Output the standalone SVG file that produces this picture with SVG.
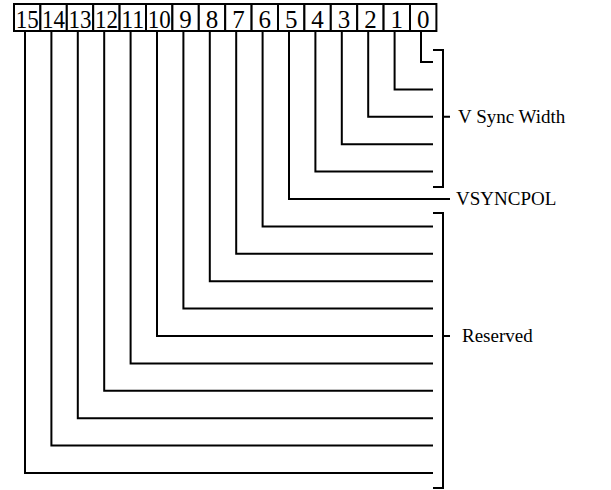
<svg xmlns="http://www.w3.org/2000/svg" width="611" height="490" viewBox="0 0 611 490">
<style>
.box{fill:#fff;stroke:#000;stroke-width:2}
.num{font-family:"Liberation Serif",serif;font-size:25px;text-anchor:middle;fill:#000}
.lbl{font-family:"Liberation Serif",serif;font-size:19px;fill:#000}
.ln{fill:none;stroke:#000;stroke-width:2}
</style>
<rect width="611" height="490" fill="#fff"/>
<g id="register">
<g id="bit15"><rect class="box" x="14" y="4" width="26.4" height="27"/><text class="num" x="27.2" y="28" textLength="23" lengthAdjust="spacingAndGlyphs">15</text></g>
<g id="bit14"><rect class="box" x="40.4" y="4" width="26.4" height="27"/><text class="num" x="53.6" y="28" textLength="23" lengthAdjust="spacingAndGlyphs">14</text></g>
<g id="bit13"><rect class="box" x="66.8" y="4" width="26.4" height="27"/><text class="num" x="80" y="28" textLength="23" lengthAdjust="spacingAndGlyphs">13</text></g>
<g id="bit12"><rect class="box" x="93.2" y="4" width="26.4" height="27"/><text class="num" x="106.4" y="28" textLength="23" lengthAdjust="spacingAndGlyphs">12</text></g>
<g id="bit11"><rect class="box" x="119.6" y="4" width="26.4" height="27"/><text class="num" x="132.8" y="28" textLength="23" lengthAdjust="spacingAndGlyphs">11</text></g>
<g id="bit10"><rect class="box" x="146" y="4" width="26.4" height="27"/><text class="num" x="159.2" y="28" textLength="23" lengthAdjust="spacingAndGlyphs">10</text></g>
<g id="bit9"><rect class="box" x="172.4" y="4" width="26.4" height="27"/><text class="num" x="185.6" y="28">9</text></g>
<g id="bit8"><rect class="box" x="198.8" y="4" width="26.4" height="27"/><text class="num" x="212" y="28">8</text></g>
<g id="bit7"><rect class="box" x="225.2" y="4" width="26.4" height="27"/><text class="num" x="238.4" y="28">7</text></g>
<g id="bit6"><rect class="box" x="251.6" y="4" width="26.4" height="27"/><text class="num" x="264.8" y="28">6</text></g>
<g id="bit5"><rect class="box" x="278" y="4" width="26.4" height="27"/><text class="num" x="291.2" y="28">5</text></g>
<g id="bit4"><rect class="box" x="304.4" y="4" width="26.4" height="27"/><text class="num" x="317.6" y="28">4</text></g>
<g id="bit3"><rect class="box" x="330.8" y="4" width="26.4" height="27"/><text class="num" x="344" y="28">3</text></g>
<g id="bit2"><rect class="box" x="357.2" y="4" width="26.4" height="27"/><text class="num" x="370.4" y="28">2</text></g>
<g id="bit1"><rect class="box" x="383.6" y="4" width="26.4" height="27"/><text class="num" x="396.8" y="28">1</text></g>
<g id="bit0"><rect class="box" x="410" y="4" width="26.4" height="27"/><text class="num" x="423.2" y="28">0</text></g>
</g>
<g id="connectors">
<path class="ln" d="M421 31V62H433"/>
<path class="ln" d="M394.6 31V89.4H433"/>
<path class="ln" d="M368.2 31V116.8H433"/>
<path class="ln" d="M341.8 31V144.2H433"/>
<path class="ln" d="M315.4 31V171.6H433"/>
<path class="ln" d="M289 31V199H450"/>
<path class="ln" d="M262.6 31V226.4H433"/>
<path class="ln" d="M236.2 31V253.8H433"/>
<path class="ln" d="M209.8 31V281.2H433"/>
<path class="ln" d="M183.4 31V308.6H433"/>
<path class="ln" d="M157 31V336H433"/>
<path class="ln" d="M130.6 31V363.4H433"/>
<path class="ln" d="M104.2 31V390.8H433"/>
<path class="ln" d="M77.8 31V418.2H433"/>
<path class="ln" d="M51.4 31V445.6H433"/>
<path class="ln" d="M25 31V473H433"/>
</g>
<g id="vsyncwidth">
<path class="ln" d="M433 50H443V187H433M443 116.8H450"/>
<text class="lbl" x="458" y="123">V Sync Width</text>
</g>
<g id="vsyncpol">
<text class="lbl" x="456" y="205">VSYNCPOL</text>
</g>
<g id="reserved">
<path class="ln" d="M433 213H443V488H433M443 336H450"/>
<text class="lbl" x="462" y="342">Reserved</text>
</g>
</svg>
